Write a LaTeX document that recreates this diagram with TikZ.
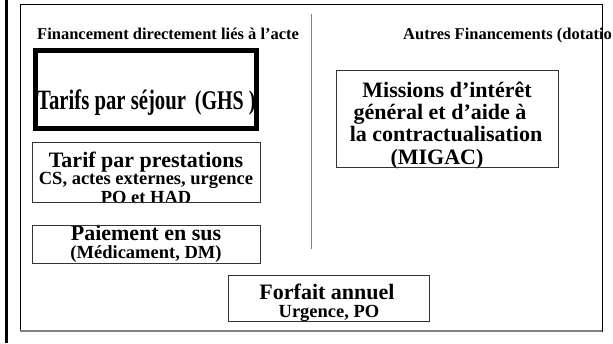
\documentclass[tikz,border=0pt]{standalone}
\usepackage{fontspec}
\setmainfont{Liberation Serif}
\usetikzlibrary{positioning}
\tikzset{x=1pt,y=-1pt,every node/.style={inner sep=0pt,font=\bfseries},
  boite/.style={draw=black!80,line width=0.8pt,fill=none},
  entete/.style={anchor=base west,font=\bfseries\fontsize{16.5}{16.5}\selectfont},
  grand/.style={anchor=base,font=\bfseries\fontsize{22}{22}\selectfont},
  petit/.style={anchor=base,font=\bfseries\fontsize{18.5}{18.5}\selectfont}}

\begin{document}
\begin{tikzpicture}
    \useasboundingbox (0,0) rectangle (613,343);
    \clip (0,0) rectangle (613,343);
    \draw[line width=3pt] (6.5,0) -- (6.5,343);
    % cadre
    \node[draw=black,line width=0.7pt,minimum width=582pt,minimum height=327pt] (cadre) at (311,167.5) {};
    \draw[gray,line width=1.8pt] (cadre.south west) -- (cadre.south east);
    \draw[gray,line width=0.8pt] (311,14) -- (311,249);
    % titres
    \node[entete] (gauche) at (37,39) {Financement directement liés à l’acte};
    \node[entete] (droite) at (403,39) {Autres Financements (dotatio};
    \draw[black,line width=0.7pt] (cadre.north east) -- (cadre.south east);
    % textes
    \node[anchor=base west] (ghs) at (37,109) {\scalebox{0.74}[1]{\fontsize{28}{28}\selectfont Tarifs par séjour\hspace{12pt}{\fontsize{27}{27}\selectfont(GHS )}}};
    \node[grand] (prest1) at (146,167) {Tarif par prestations};
    \node[petit] (prest2) at (146,184) {CS, actes externes, urgence};
    \node[petit] (prest3) at (146,203) {PO et HAD};
    \node[grand] (sus1) at (146,240) {Paiement en sus};
    \node[petit] (sus2) at (146,258) {(Médicament, DM)};
    \node[grand] (forf1) at (327,299) {Forfait annuel};
    \node[petit] (forf2) at (329,317) {Urgence, PO};
    \node[grand] (mig1) at (447,97) {Missions d’intérêt};
    \node[grand] (mig2) at (440,119) {général et d’aide à};
    \node[grand] (mig3) at (446,141) {la contractualisation};
    \node[grand] (mig4) at (437,164) {(MIGAC)};
    % boites
    \node[boite,draw=black,line width=5pt,minimum width=221pt,minimum height=78pt] (sejour) at (146,89.5) {};
    \node[boite,minimum width=228pt,minimum height=60pt] (prest) at (146,172) {};
    \node[boite,minimum width=228pt,minimum height=38pt] (sus) at (146,244) {};
    \node[boite,minimum width=201pt,minimum height=46pt] (forfait) at (328.5,298) {};
    \node[boite,minimum width=222pt,minimum height=97pt] (migac) at (447,118.5) {};
\end{tikzpicture}
\end{document}
